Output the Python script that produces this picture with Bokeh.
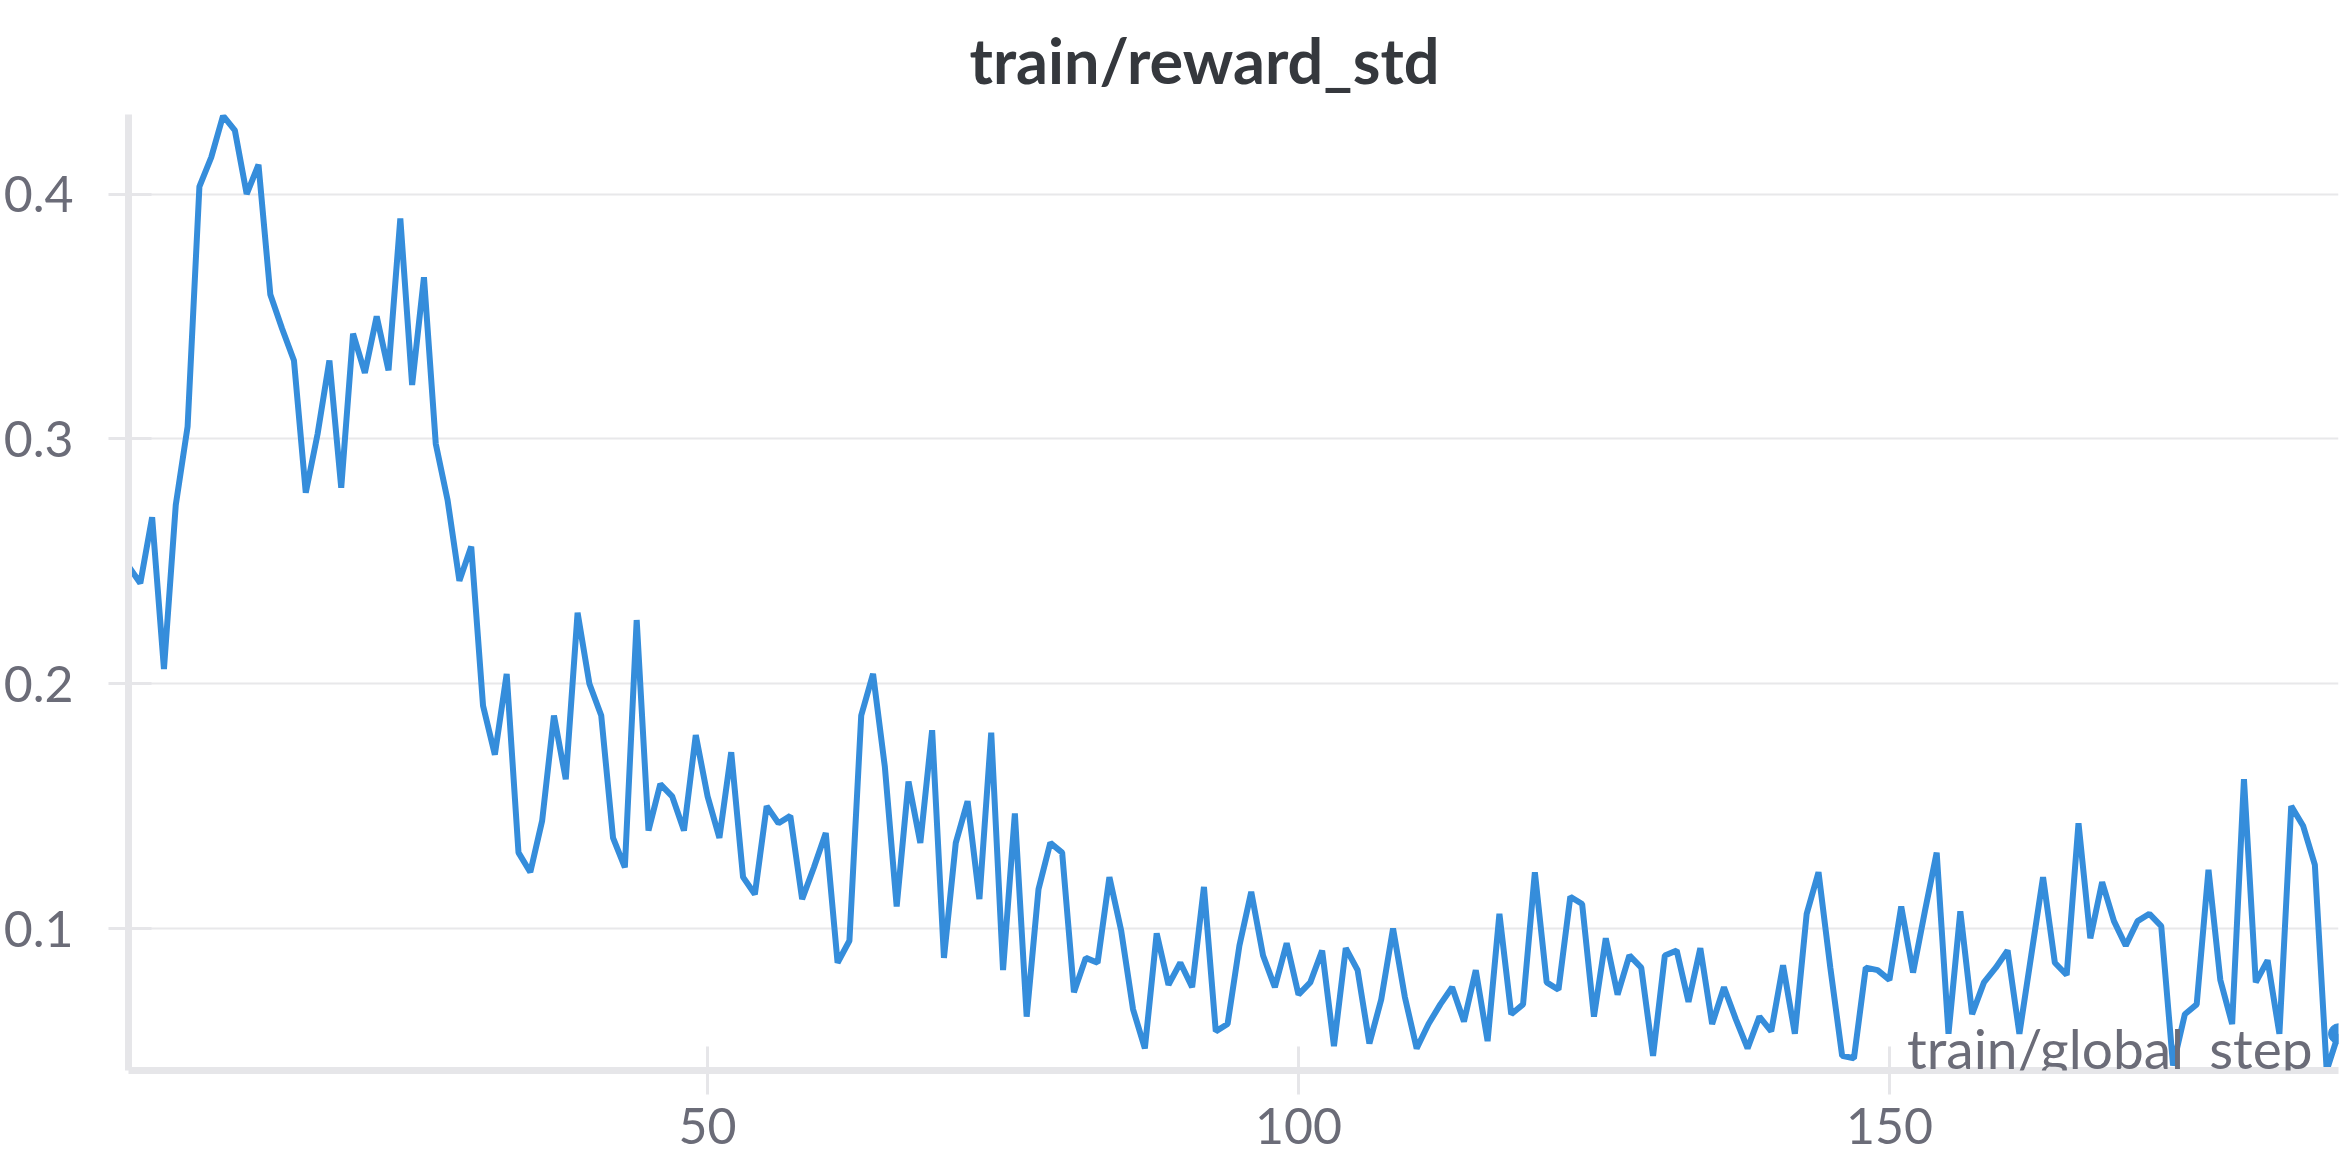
from bokeh.plotting import figure
from bokeh.models import Range1d, FixedTicker, Label
from bokeh.embed import file_html
from bokeh.resources import INLINE

# ---- data ----
steps = list(range(1, 189))
reward_std = [
    0.248, 0.241, 0.268, 0.206, 0.273, 0.305, 0.403, 0.415, 0.432, 0.426,
    0.400, 0.412, 0.359, 0.345, 0.332, 0.278, 0.302, 0.332, 0.280, 0.343,
    0.327, 0.350, 0.328, 0.390, 0.322, 0.366, 0.298, 0.275, 0.242, 0.256,
    0.191, 0.171, 0.204, 0.131, 0.123, 0.144, 0.187, 0.161, 0.229, 0.200,
    0.187, 0.137, 0.125, 0.226, 0.140, 0.159, 0.154, 0.140, 0.179, 0.154,
    0.137, 0.172, 0.121, 0.114, 0.150, 0.143, 0.146, 0.112, 0.125, 0.139,
    0.086, 0.095, 0.187, 0.204, 0.166, 0.109, 0.160, 0.135, 0.181, 0.088,
    0.135, 0.152, 0.112, 0.180, 0.083, 0.147, 0.064, 0.116, 0.135, 0.131,
    0.074, 0.088, 0.086, 0.121, 0.099, 0.067, 0.051, 0.098, 0.077, 0.086,
    0.076, 0.117, 0.058, 0.061, 0.093, 0.115, 0.089, 0.076, 0.094, 0.073,
    0.078, 0.091, 0.052, 0.092, 0.083, 0.053, 0.071, 0.100, 0.072, 0.051,
    0.061, 0.069, 0.076, 0.062, 0.083, 0.054, 0.106, 0.065, 0.069, 0.123,
    0.078, 0.075, 0.113, 0.110, 0.064, 0.096, 0.073, 0.089, 0.084, 0.048,
    0.089, 0.091, 0.070, 0.092, 0.061, 0.076, 0.063, 0.051, 0.064, 0.058,
    0.085, 0.057, 0.106, 0.123, 0.084, 0.048, 0.047, 0.084, 0.083, 0.079,
    0.109, 0.082, 0.107, 0.131, 0.057, 0.107, 0.065, 0.078, 0.084, 0.091,
    0.057, 0.089, 0.121, 0.086, 0.081, 0.143, 0.096, 0.119, 0.103, 0.093,
    0.103, 0.106, 0.101, 0.044, 0.065, 0.069, 0.124, 0.079, 0.061, 0.161,
    0.078, 0.087, 0.057, 0.150, 0.142, 0.126, 0.042, 0.057,
]
x_ticks = [50, 100, 150]
y_ticks = [0.1, 0.2, 0.3, 0.4]
title_text = "train/reward_std"
x_label_text = "train/global_step"

LINE = "#358ddb"
AXIS = "#e6e6e9"
GRID = "#e8e8ea"
LABEL = "#6b6c78"
TITLE = "#35383d"
FONT = "Lato"

p = figure(
    width=2350, height=1168,
    output_backend="svg", toolbar_location=None,
    x_range=Range1d(1, 188), y_range=Range1d(0.042, 0.4325),
    min_border_left=127, min_border_right=12,
    min_border_top=114, min_border_bottom=98,
    background_fill_color="white", border_fill_color="white",
)
p.outline_line_color = None

# title
p.title.text = title_text
p.title.text_font = FONT
p.title.text_font_style = "bold"
p.title.text_font_size = "63px"
p.title.text_color = TITLE
p.title.align = "left"
p.title.offset = 841
p.title.standoff = 36

# axes
for ax in (p.xaxis[0], p.yaxis[0]):
    ax.axis_line_color = AXIS
    ax.axis_line_width = 7
    ax.major_tick_line_color = AXIS
    ax.major_tick_line_width = 3
    ax.minor_tick_line_color = None
    ax.major_label_text_font = FONT
    ax.major_label_text_font_size = "50px"
    ax.major_label_text_color = LABEL

p.xaxis.ticker = FixedTicker(ticks=x_ticks)
p.xaxis.major_tick_in = 24
p.xaxis.major_tick_out = 24
p.xaxis.major_label_standoff = 13

p.yaxis.ticker = FixedTicker(ticks=y_ticks)
p.yaxis.major_tick_in = 23
p.yaxis.major_tick_out = 20
p.yaxis.major_label_standoff = 35

p.xgrid.grid_line_color = None
p.ygrid.grid_line_color = GRID
p.ygrid.grid_line_width = 2

# data
p.line(steps, reward_std, line_color=LINE, line_width=6)
p.scatter([steps[-1]], [reward_std[-1]], size=20, color=LINE)

# x axis name inside the frame, bottom right
p.add_layout(Label(
    x=steps[-1], y=p.y_range.start, x_offset=-26, y_offset=23,
    text=x_label_text, text_align="right", text_baseline="alphabetic",
    text_font=FONT, text_font_size="55px", text_color=LABEL,
))

open("out.html", "w").write(file_html(p, INLINE))
